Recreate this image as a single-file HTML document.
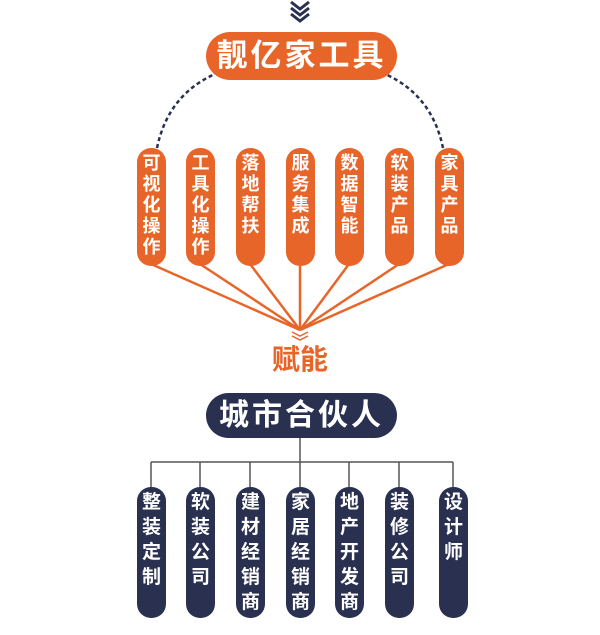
<!DOCTYPE html>
<html><head><meta charset="utf-8"><style>
body{margin:0;width:600px;height:635px;background:#fff;position:relative;overflow:hidden;font-family:"Liberation Sans","Noto Sans CJK SC",sans-serif;}
.p{position:absolute;border-radius:14px;color:#fff;font-weight:bold;text-align:center;box-sizing:border-box;}
.o{background:#e8652a;width:29px;top:148px;height:118px;font-size:18px;line-height:21px;padding-top:5px;}
.n{background:#2a3050;width:29px;top:487px;height:131px;font-size:19px;line-height:25px;padding-top:3px;}
.t{position:absolute;left:206px;width:191px;border-radius:24px;color:#fff;font-weight:bold;text-align:center;font-size:31px;letter-spacing:3px;}
</style></head><body>
<svg width="600" height="635" style="position:absolute;left:0;top:0">
<polyline points="291,2 300,9 309,2 M" fill="none" stroke="#2a3050" stroke-width="3"/>
<polyline points="291,8 300,15 309,8" fill="none" stroke="#2a3050" stroke-width="3"/>
<polyline points="291,14 300,21 309,14" fill="none" stroke="#2a3050" stroke-width="3"/>
<path d="M157,148 Q168,95 215,74" fill="none" stroke="#2a3050" stroke-width="2.5" stroke-dasharray="4,3"/>
<path d="M443,148 Q432,95 385,74" fill="none" stroke="#2a3050" stroke-width="2.5" stroke-dasharray="4,3"/>
<g stroke="#e8652a" stroke-width="2.5">
<line x1="151" y1="264" x2="300" y2="330"/><line x1="200" y1="264" x2="300" y2="330"/><line x1="250" y1="264" x2="300" y2="330"/><line x1="300" y1="264" x2="300" y2="330"/><line x1="349" y1="264" x2="300" y2="330"/><line x1="399" y1="264" x2="300" y2="330"/><line x1="449" y1="264" x2="300" y2="330"/>
</g>
<g fill="none" stroke="#e8652a" stroke-width="1.5"><polyline points="292,332 300,336 308,332"/><polyline points="292,336 300,340 308,336"/></g>
<g stroke="#555" stroke-width="1.5" fill="none">
<line x1="300" y1="438" x2="300" y2="487"/><line x1="151" y1="462" x2="453" y2="462"/>
<line x1="151" y1="462" x2="151" y2="487"/><line x1="200" y1="462" x2="200" y2="487"/><line x1="250" y1="462" x2="250" y2="487"/><line x1="349" y1="462" x2="349" y2="487"/><line x1="399" y1="462" x2="399" y2="487"/><line x1="453" y1="462" x2="453" y2="487"/>
</g>
</svg>
<div class="t" style="top:32px;height:48px;line-height:48px;background:#e8652a;">靓亿家工具</div>
<div class="p o" style="left:137px">可<br>视<br>化<br>操<br>作</div>
<div class="p o" style="left:186px">工<br>具<br>化<br>操<br>作</div>
<div class="p o" style="left:236px">落<br>地<br>帮<br>扶</div>
<div class="p o" style="left:286px">服<br>务<br>集<br>成</div>
<div class="p o" style="left:335px">数<br>据<br>智<br>能</div>
<div class="p o" style="left:385px">软<br>装<br>产<br>品</div>
<div class="p o" style="left:435px">家<br>具<br>产<br>品</div>
<div style="position:absolute;left:250px;width:100px;top:342px;text-align:center;font-size:28px;font-weight:bold;color:#e8652a;line-height:36px">赋能</div>
<div class="t" style="top:393px;height:45px;line-height:45px;background:#2a3050;font-size:30px">城市合伙人</div>
<div class="p n" style="left:137px">整<br>装<br>定<br>制</div>
<div class="p n" style="left:186px">软<br>装<br>公<br>司</div>
<div class="p n" style="left:236px">建<br>材<br>经<br>销<br>商</div>
<div class="p n" style="left:286px">家<br>居<br>经<br>销<br>商</div>
<div class="p n" style="left:335px">地<br>产<br>开<br>发<br>商</div>
<div class="p n" style="left:385px">装<br>修<br>公<br>司</div>
<div class="p n" style="left:439px">设<br>计<br>师</div>
</body></html>
